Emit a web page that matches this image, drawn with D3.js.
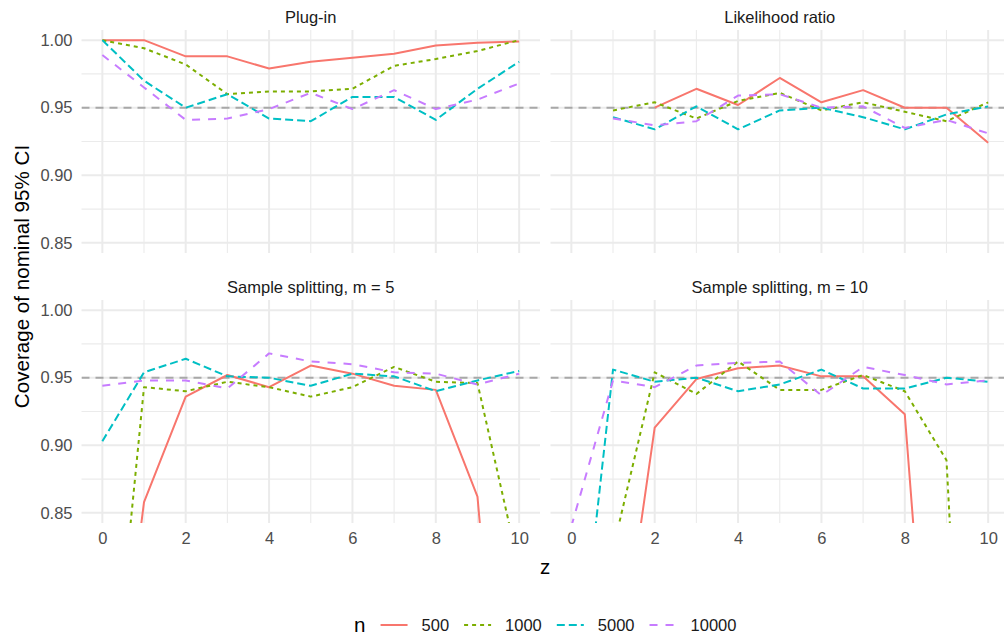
<!DOCTYPE html>
<html>
<head>
<meta charset="utf-8">
<script src="https://cdn.jsdelivr.net/npm/d3@7"></script>
<style>
  html, body { margin: 0; padding: 0; background: #ffffff; }
  svg { display: block; font-family: "Liberation Sans", Arial, Helvetica, sans-serif; }
</style>
</head>
<body>
<svg id="chart" width="1004" height="641"></svg>
<script>
// z grid shared by every panel
const zValues = [0, 1, 2, 3, 4, 5, 6, 7, 8, 9, 10];

// Sample sizes (legend) and their line styles
const sampleSizes = ["500", "1000", "5000", "10000"];
const seriesColors = ["#F8766D", "#7CAE00", "#00BFC4", "#C77CFF"];
const seriesDashes = [null, "4,4", "8,4", "8,8"];

// Panel titles
const panelTitles = ["Plug-in", "Likelihood ratio", "Sample splitting, m = 5", "Sample splitting, m = 10"];

// Coverage by z, one array per sample size and method (null = not computed)
const plugIn500   = [1.000, 1.000, 0.988, 0.988, 0.979, 0.984, 0.987, 0.990, 0.996, 0.998, 0.999];
const plugIn1000  = [1.000, 0.994, 0.982, 0.960, 0.962, 0.962, 0.964, 0.981, 0.986, 0.992, 1.000];
const plugIn5000  = [1.000, 0.970, 0.950, 0.960, 0.942, 0.940, 0.958, 0.958, 0.941, 0.964, 0.984];
const plugIn10000 = [0.989, 0.965, 0.941, 0.942, 0.949, 0.961, 0.949, 0.963, 0.949, 0.956, 0.968];

const lr500   = [null, null, 0.950, 0.964, 0.952, 0.972, 0.954, 0.963, 0.950, 0.950, 0.924];
const lr1000  = [null, 0.948, 0.954, 0.942, 0.955, 0.961, 0.948, 0.954, 0.947, 0.940, 0.954];
const lr5000  = [null, 0.943, 0.934, 0.951, 0.934, 0.948, 0.950, 0.943, 0.934, 0.945, 0.951];
const lr10000 = [null, 0.942, 0.937, 0.940, 0.959, 0.960, 0.950, 0.951, 0.935, 0.941, 0.931];

const split5_500   = [0.614, 0.858, 0.936, 0.952, 0.943, 0.959, 0.953, 0.944, 0.941, 0.862, 0.510];
const split5_1000  = [0.630, 0.943, 0.940, 0.947, 0.943, 0.936, 0.943, 0.958, 0.947, 0.946, 0.809];
const split5_5000  = [0.903, 0.954, 0.964, 0.951, 0.950, 0.944, 0.953, 0.951, 0.940, 0.948, 0.955];
const split5_10000 = [0.944, 0.948, 0.948, 0.942, 0.968, 0.962, 0.960, 0.954, 0.953, 0.945, 0.953];

const split10_500   = [0.450, 0.698, 0.913, 0.949, 0.957, 0.959, 0.951, 0.951, 0.923, 0.523, 0.400];
const split10_1000  = [0.700, 0.823, 0.954, 0.938, 0.962, 0.941, 0.941, 0.952, 0.940, 0.889, 0.310];
const split10_5000  = [0.679, 0.956, 0.947, 0.950, 0.940, 0.945, 0.956, 0.942, 0.942, 0.950, 0.947];
const split10_10000 = [0.840, 0.948, 0.943, 0.959, 0.961, 0.962, 0.937, 0.958, 0.952, 0.945, 0.948];

// Axis breaks
const xMajorTicks = [0, 2, 4, 6, 8, 10];
const xMinorTicks = [1, 3, 5, 7, 9];
const yMajorTicks = [0.85, 0.90, 0.95, 1.00];
const yMinorTicks = [0.875, 0.925, 0.975];
const nominalLevel = 0.95;

const panelSeries = [
  [plugIn500, plugIn1000, plugIn5000, plugIn10000],
  [lr500, lr1000, lr5000, lr10000],
  [split5_500, split5_1000, split5_5000, split5_10000],
  [split10_500, split10_1000, split10_5000, split10_10000]
];

// ---- layout ----
const svg = d3.select("#chart");
const colLeft = [81.5, 550.5];
const panelW = 458.5;
const rowTop = [30, 300];
const panelH = 223;

const gridColor = "#EBEBEB";
const textDark = "#1A1A1A";
const textAxis = "#4D4D4D";
const fontSmall = 16.5;
const fontTitle = 20.6;

const xDomain = [-0.5, 10.5];
const yDomain = [0.8425, 1.0075];

panelTitles.forEach((title, i) => {
  const col = i % 2, row = Math.floor(i / 2);
  const x0 = colLeft[col], y0 = rowTop[row];
  const x = d3.scaleLinear().domain(xDomain).range([x0, x0 + panelW]);
  const y = d3.scaleLinear().domain(yDomain).range([y0 + panelH, y0]);

  const g = svg.append("g");

  // clip region for the panel
  const clipId = "clip" + i;
  svg.append("clipPath").attr("id", clipId)
    .append("rect").attr("x", x0).attr("y", y0).attr("width", panelW).attr("height", panelH);

  // minor grid
  g.selectAll(".xmin").data(xMinorTicks).enter().append("line")
    .attr("x1", d => x(d)).attr("x2", d => x(d)).attr("y1", y0).attr("y2", y0 + panelH)
    .attr("stroke", gridColor).attr("stroke-width", 1.1);
  g.selectAll(".ymin").data(yMinorTicks).enter().append("line")
    .attr("y1", d => y(d)).attr("y2", d => y(d)).attr("x1", x0).attr("x2", x0 + panelW)
    .attr("stroke", gridColor).attr("stroke-width", 1.1);
  // major grid
  g.selectAll(".xmaj").data(xMajorTicks).enter().append("line")
    .attr("x1", d => x(d)).attr("x2", d => x(d)).attr("y1", y0).attr("y2", y0 + panelH)
    .attr("stroke", gridColor).attr("stroke-width", 2);
  g.selectAll(".ymaj").data(yMajorTicks).enter().append("line")
    .attr("y1", d => y(d)).attr("y2", d => y(d)).attr("x1", x0).attr("x2", x0 + panelW)
    .attr("stroke", gridColor).attr("stroke-width", 2);

  // strip title
  g.append("text")
    .attr("x", x0 + panelW / 2).attr("y", y0 - 13 + 0.36 * fontSmall)
    .attr("text-anchor", "middle").attr("font-size", fontSmall).attr("fill", textDark)
    .text(title);

  // y axis labels on left column only
  if (col === 0) {
    const yAxis = d3.axisLeft(y).tickValues(yMajorTicks).tickFormat(d3.format(".2f")).tickSize(0).tickPadding(9);
    const ya = g.append("g").attr("transform", `translate(${x0},0)`).call(yAxis);
    ya.select(".domain").remove();
    ya.selectAll("text").attr("font-size", fontSmall).attr("fill", textAxis)
      .attr("font-family", "Liberation Sans, Arial, sans-serif");
  }
  // x axis labels on bottom row only
  if (row === 1) {
    const xAxis = d3.axisBottom(x).tickValues(xMajorTicks).tickFormat(d3.format("d")).tickSize(0).tickPadding(9);
    const xa = g.append("g").attr("transform", `translate(0,${y0 + panelH})`).call(xAxis);
    xa.select(".domain").remove();
    xa.selectAll("text").attr("font-size", fontSmall).attr("fill", textAxis)
      .attr("font-family", "Liberation Sans, Arial, sans-serif");
  }

  const plot = g.append("g").attr("clip-path", `url(#${clipId})`);

  // nominal level reference
  plot.append("line")
    .attr("x1", x0).attr("x2", x0 + panelW)
    .attr("y1", y(nominalLevel)).attr("y2", y(nominalLevel))
    .attr("stroke", "#A8A8A8").attr("stroke-width", 2).attr("stroke-dasharray", "8,6");

  const line = d3.line()
    .defined(d => d[1] !== null)
    .x(d => x(d[0])).y(d => y(d[1]));

  panelSeries[i].forEach((vals, s) => {
    const pts = zValues.map((z, k) => [z, vals[k]]);
    plot.append("path")
      .attr("d", line(pts))
      .attr("fill", "none")
      .attr("stroke", seriesColors[s])
      .attr("stroke-width", 2)
      .attr("stroke-linejoin", "round")
      .attr("stroke-dasharray", seriesDashes[s]);
  });
});

// axis titles
const plotLeft = colLeft[0], plotRight = colLeft[1] + panelW;
svg.append("text")
  .attr("x", (plotLeft + plotRight) / 2).attr("y", 567 + 0.36 * fontTitle)
  .attr("text-anchor", "middle").attr("font-size", fontTitle).attr("fill", "#000")
  .text("z");
svg.append("text")
  .attr("transform", `translate(${22 + 0.36 * fontTitle},${rowTop[0] + (rowTop[1] + panelH - rowTop[0]) / 2}) rotate(-90)`)
  .attr("text-anchor", "middle").attr("font-size", fontTitle).attr("fill", "#000")
  .text("Coverage of nominal 95% CI");

// legend
const legendY = 625;
const legend = svg.append("g");
const titleText = legend.append("text")
  .attr("x", 0).attr("y", legendY + 0.36 * fontTitle)
  .attr("font-size", fontTitle).attr("fill", "#000").text("n");
let cursor = titleText.node().getComputedTextLength() + 15;
const keyW = 27;
sampleSizes.forEach((label, s) => {
  legend.append("line")
    .attr("x1", cursor).attr("x2", cursor + keyW)
    .attr("y1", legendY).attr("y2", legendY)
    .attr("stroke", seriesColors[s]).attr("stroke-width", 2)
    .attr("stroke-dasharray", seriesDashes[s]);
  cursor += keyW + 14;
  const t = legend.append("text")
    .attr("x", cursor).attr("y", legendY + 0.36 * fontSmall)
    .attr("font-size", fontSmall).attr("fill", textDark).text(label);
  cursor += t.node().getComputedTextLength() + (s < sampleSizes.length - 1 ? 15 : 0);
});
legend.attr("transform", `translate(${(plotLeft + plotRight) / 2 - cursor / 2},0)`);
</script>
</body>
</html>
